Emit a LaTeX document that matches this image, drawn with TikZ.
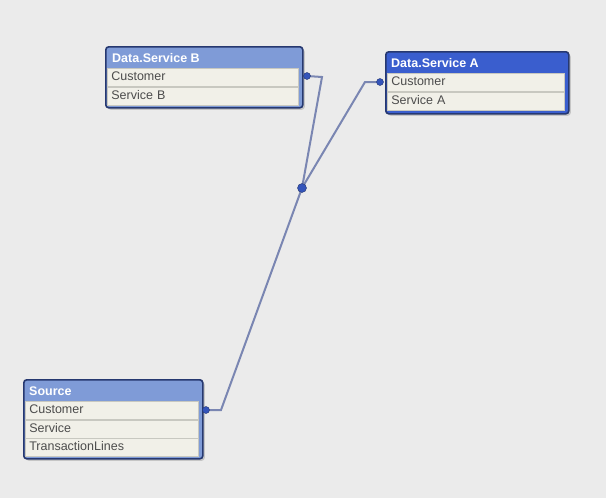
\documentclass[tikz,border=0pt]{standalone}
\usepackage{fontspec}
\setmainfont{Liberation Sans}
\usetikzlibrary{positioning, calc, shadows, backgrounds}
\definecolor{bgcol}{RGB}{235,235,235}
\definecolor{headlight}{RGB}{127,155,215}
\definecolor{headdark}{RGB}{58,94,206}
\definecolor{rowfill}{RGB}{241,240,232}
\definecolor{rowline}{RGB}{200,200,192}
\definecolor{frameblue}{RGB}{38,56,112}
\definecolor{linkcol}{RGB}{122,134,178}
\definecolor{dotcol}{RGB}{52,84,186}

\tikzset{
  tablebox/.style={draw=frameblue, line width=1.6pt, rounded corners=3pt,
    inner sep=0pt, anchor=north west,
    drop shadow={shadow xshift=2pt, shadow yshift=-2pt, opacity=0.35}},
  headtext/.style={anchor=west, text=white, font=\bfseries\fontsize{12.5}{14}\selectfont, inner sep=0pt},
  rowbox/.style={draw=rowline, fill=rowfill, line width=0.6pt, inner xsep=4pt, inner ysep=0pt,
    minimum height=18pt, text height=9pt, text depth=2.5pt, align=left,
    text=black!70, font=\fontsize{12.5}{14}\selectfont},
  pin/.style={circle, fill=dotcol, draw=frameblue, line width=0.4pt, inner sep=0pt, minimum size=7pt},
  hubpin/.style={pin, minimum size=9pt},
  link/.style={draw=linkcol, line width=2pt}
}

\begin{document}
\begin{tikzpicture}[x=1pt, y=-1pt]
  \begin{scope}[on background layer]
    \useasboundingbox[fill=bgcol] (0,0) rectangle (606,498);
  \end{scope}

  % --- table Data.Service B ---
  \node[tablebox, fill=headlight, minimum width=197pt, minimum height=61pt] (tabB) at (105,46) {};
  \node[headtext] (tabBhead) at ($(tabB.north west)+(7,12)$) {Data.Service B};
  \node[rowbox, text width=183pt, anchor=north west] (tabBcust) at ($(tabB.north west)+(2,22)$) {Customer};
  \node[rowbox, text width=183pt, below=0pt of tabBcust] (tabBserv) {Service B};

  % --- table Data.Service A (selected) ---
  \node[tablebox, fill=headdark, minimum width=183pt, minimum height=62pt] (tabA) at (385,51) {};
  \node[headtext] (tabAhead) at ($(tabA.north west)+(6,12)$) {Data.Service A};
  \node[rowbox, text width=169pt, anchor=north west] (tabAcust) at ($(tabA.north west)+(2,22)$) {Customer};
  \node[rowbox, text width=169pt, below=0pt of tabAcust] (tabAserv) {Service A};

  % --- table Source ---
  \node[tablebox, fill=headlight, minimum width=179pt, minimum height=79pt] (tabS) at (23,379) {};
  \node[headtext] (tabShead) at ($(tabS.north west)+(6,12)$) {Source};
  \node[rowbox, text width=165pt, anchor=north west] (tabScust) at ($(tabS.north west)+(2,22)$) {Customer};
  \node[rowbox, text width=165pt, below=0pt of tabScust] (tabSserv) {Service};
  \node[rowbox, text width=165pt, below=0pt of tabSserv] (tabStrans) {TransactionLines};

  % --- key links ---
  \node[hubpin] (hub) at (302,188) {};
  \coordinate (bendB) at (322,77);
  \coordinate (bendA) at (365,82);
  \coordinate (bendS) at (221,410);
  \node[pin] (pinB) at (307,76) {};
  \node[pin] (pinA) at (380,82) {};
  \node[pin] (pinS) at (206,410) {};

  \begin{scope}[on background layer]
    \draw[link] (pinB.center) -- (bendB) -- (hub.center);
    \draw[link] (pinA.center) -- (bendA) -- (hub.center);
    \draw[link] (pinS.center) -- (bendS) -- (hub.center);
  \end{scope}
\end{tikzpicture}
\end{document}
